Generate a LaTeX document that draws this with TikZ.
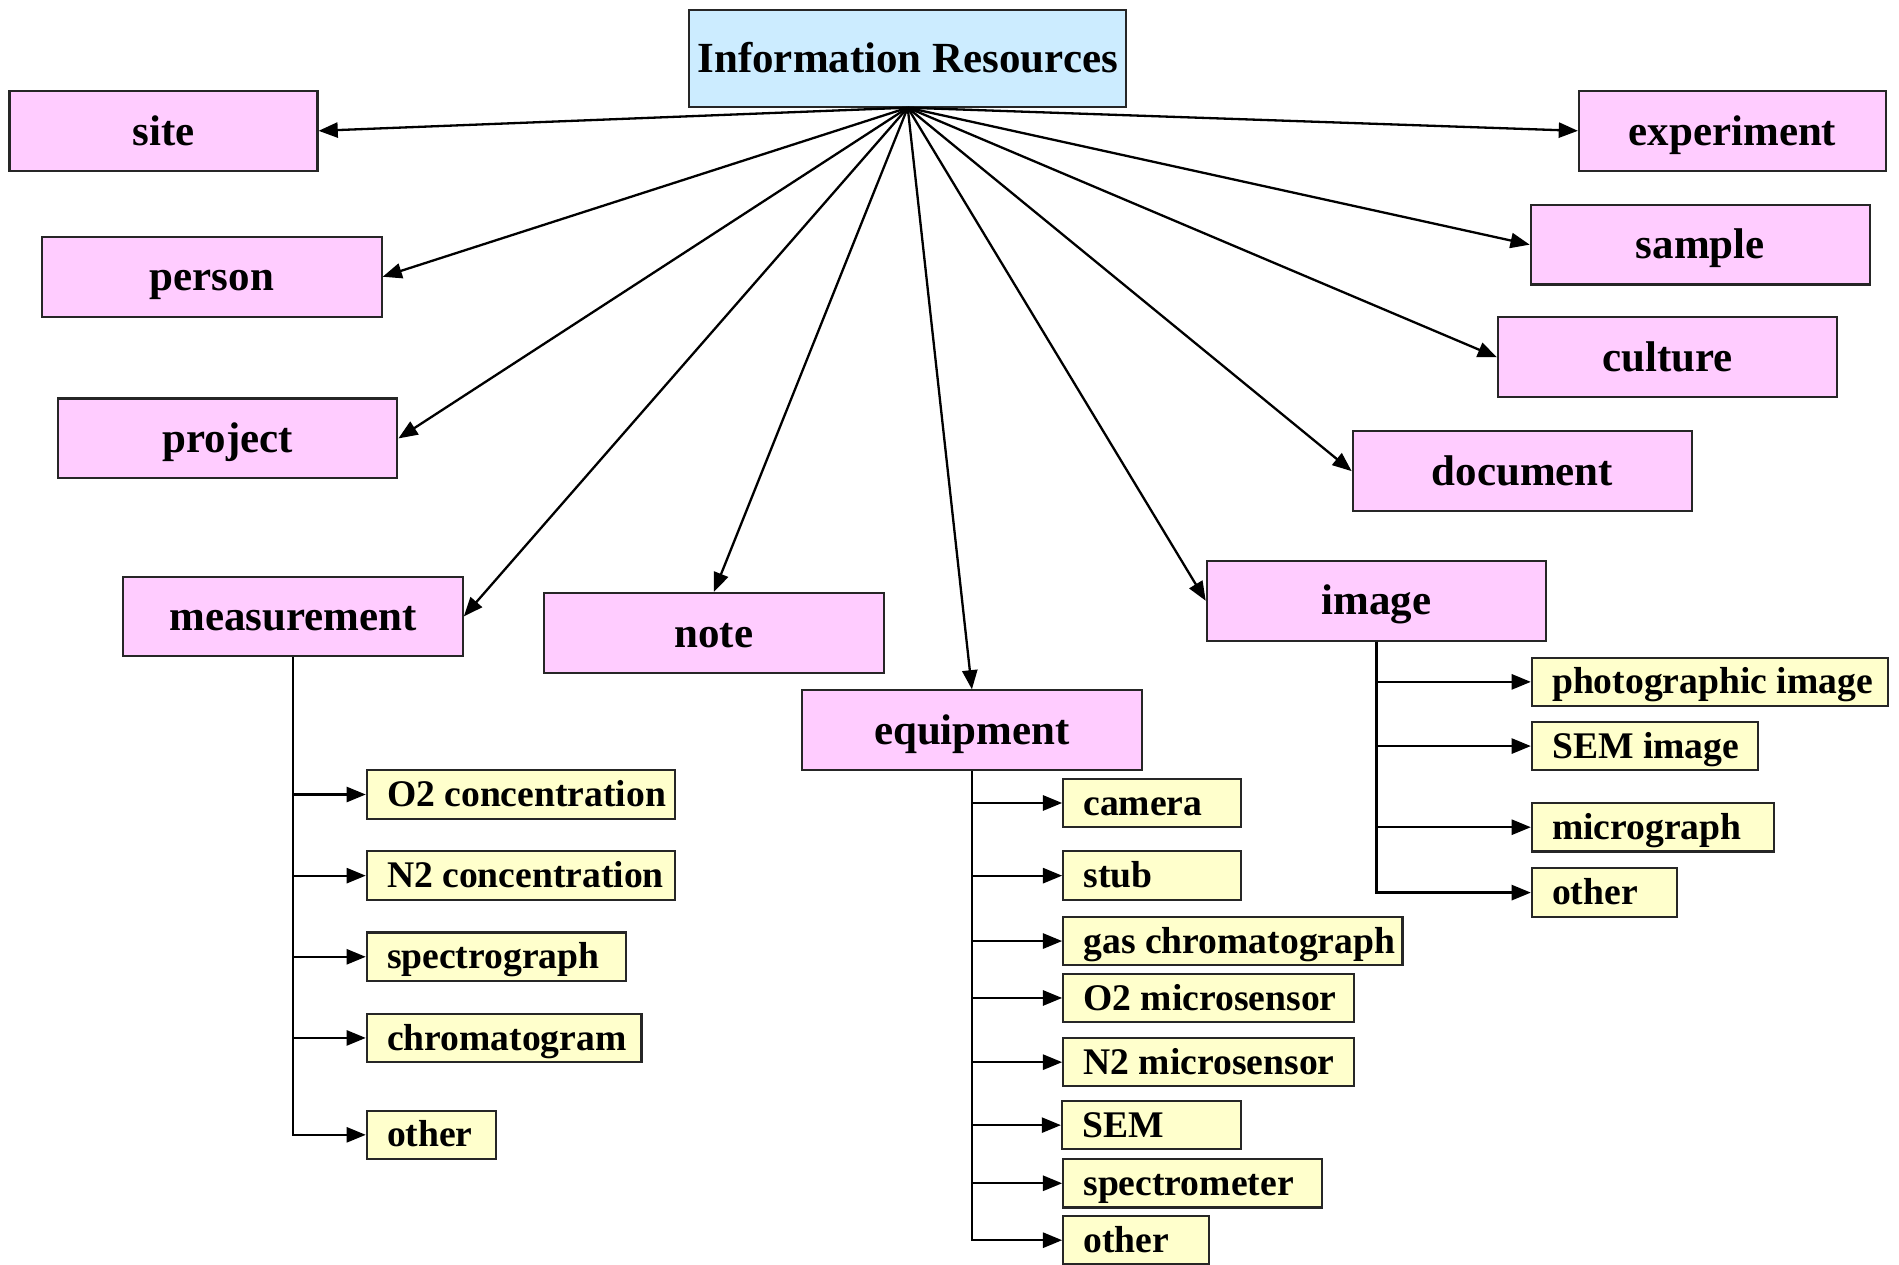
\documentclass[tikz,border=0pt]{standalone}
\usepackage{fontspec}
\setmainfont{Liberation Serif}
\usepackage{xcolor}
\usepackage{tikz}
\usetikzlibrary{
  arrows.meta
}
\definecolor{rootblue}{RGB}{204,236,255}
\definecolor{topicpink}{RGB}{255,204,255}
\definecolor{leafyellow}{RGB}{255,255,204}
\tikzset{
  res/.style={ font=\bfseries },
  root/.style={
    draw=black!85,
    fill=rootblue,
    line width=0.6pt,
    minimum width=4.33cm,
    minimum height=0.96cm,
    inner sep=0pt,
    text height=0.95em,
    text depth=0.15em,
    font=\fontsize{12.1}{14}\selectfont\bfseries
  },
  topic/.style={
    draw=black!85,
    fill=topicpink,
    line width=0.6pt,
    minimum width=#1,
    minimum height=0.79cm,
    inner sep=0pt,
    text height=0.95em,
    text depth=0.15em,
    font=\fontsize{12.1}{14}\selectfont\bfseries
  },
  topic/.default=3.36cm,
  leaf/.style={
    draw=black!85,
    fill=leafyellow,
    line width=0.6pt,
    anchor=west,
    inner xsep=0pt,
    inner ysep=0pt,
    minimum height=0.48cm,
    text height=0.9em,
    text depth=0.22em,
    font=\fontsize{10.6}{12}\selectfont\bfseries,
    execute at begin node={\hbox to #1\bgroup\hskip0.2cm},
    execute at end node={\hfil\egroup}
  },
  arrow/.style={
    -{Triangle[length=0.19cm,width=0.15cm]},
    line width=0.65pt
  }
}

\begin{document}
\begin{tikzpicture}[res, x=0.012cm, y=-0.012cm]
  \useasboundingbox (0,0) rectangle (1568,1044);
  \node[root] (ir) at (749.5,48) {Information Resources};
  \node[topic=3.05cm] (site) at (135,108) {site};
  \node[topic=3.04cm] (exp) at (1430.5,108) {experiment};
  \node[topic] (person) at (175,228.5) {person};
  \node[topic] (sample) at (1404,202) {sample};
  \node[topic] (project) at (188,362) {project};
  \node[topic] (culture) at (1377,295) {culture};
  \node[topic] (doc) at (1257,389) {document};
  \node[topic] (meas) at (242,509) {measurement};
  \node[topic] (note) at (589.5,522.5) {note};
  \node[topic] (equip) at (802.5,603) {equipment};
  \node[topic] (image) at (1136.5,496) {image};
  \foreach \t/\a in {site/east,exp/west,person/east,sample/west,project/east,
                     culture/west,doc/west,meas/east,note/north,equip/north,image/west}
    \draw[arrow] (ir.south) -- (\t.\a);

  \node[leaf=3.05cm] (m1) at (302,656) {O2 concentration};
  \node[leaf=3.05cm] (m2) at (302,723) {N2 concentration};
  \node[leaf=2.57cm] (m3) at (302,790) {spectrograph};
  \node[leaf=2.72cm] (m4) at (302,857) {chromatogram};
  \node[leaf=1.28cm] (m5) at (302,937) {other};
  \foreach \l in {m1,m2,m3,m4,m5}
    \draw[arrow] (meas.south) |- (\l.west);

  \node[leaf=1.76cm] (e1) at (877,663) {camera};
  \node[leaf=1.76cm] (e2) at (877,723) {stub};
  \node[leaf=3.36cm] (e3) at (877,777) {gas chromatograph};
  \node[leaf=2.88cm] (e4) at (877,824) {O2 microsensor};
  \node[leaf=2.88cm] (e5) at (877,877) {N2 microsensor};
  \node[leaf=1.77cm] (e6) at (876,929) {SEM};
  \node[leaf=2.56cm] (e7) at (877,977) {spectrometer};
  \node[leaf=1.44cm] (e8) at (877,1024) {other};
  \foreach \l in {e1,e2,e3,e4,e5,e6,e7,e8}
    \draw[arrow] (equip.south) |- (\l.west);

  \node[leaf=3.53cm] (i1) at (1264,563) {photographic image};
  \node[leaf=2.24cm] (i2) at (1264,616) {SEM image};
  \node[leaf=2.40cm] (i3) at (1264,683) {micrograph};
  \node[leaf=1.44cm] (i4) at (1264,737) {other};
  \foreach \l in {i1,i2,i3,i4}
    \draw[arrow] (image.south) |- (\l.west);
\end{tikzpicture}
\end{document}
